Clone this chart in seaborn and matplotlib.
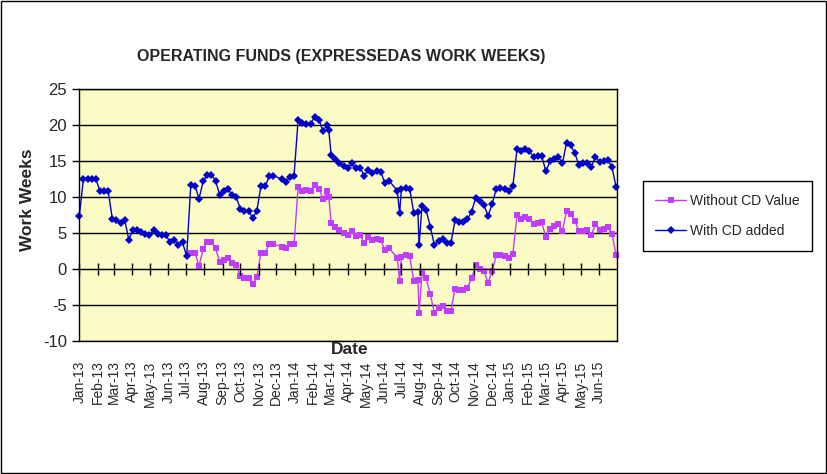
"""Operating funds expressed as work weeks, weekly, Jan 2013 - Jun 2015"""

import matplotlib
matplotlib.use('Agg')
import matplotlib.pyplot as plt
import matplotlib.dates as mdates
from matplotlib.patches import Rectangle
import pandas as pd
import seaborn as sns

# weekly readings (a few weeks missing, a few mid-week corrections added)
dates = [
    '2013-01-01', '2013-01-08', '2013-01-15', '2013-01-22', '2013-01-29',
    '2013-02-05', '2013-02-12', '2013-02-19', '2013-02-26',
    '2013-03-05', '2013-03-12', '2013-03-19', '2013-03-26',
    '2013-04-02', '2013-04-09', '2013-04-16', '2013-04-23', '2013-04-30',
    '2013-05-07', '2013-05-14', '2013-05-21', '2013-05-28',
    '2013-06-04', '2013-06-11', '2013-06-18', '2013-06-25',
    '2013-07-02', '2013-07-09', '2013-07-16', '2013-07-23', '2013-07-30',
    '2013-08-06', '2013-08-13', '2013-08-20', '2013-08-27',
    '2013-09-03', '2013-09-10', '2013-09-17', '2013-09-24',
    '2013-10-01', '2013-10-08', '2013-10-15', '2013-10-22', '2013-10-29',
    '2013-11-05', '2013-11-12', '2013-11-19', '2013-11-26',
    '2013-12-10', '2013-12-17', '2013-12-24', '2013-12-31',
    '2014-01-07', '2014-01-14', '2014-01-21', '2014-01-28',
    '2014-02-04', '2014-02-11', '2014-02-18', '2014-02-25', '2014-02-28',
    '2014-03-04', '2014-03-11', '2014-03-18', '2014-03-25',
    '2014-04-01', '2014-04-08', '2014-04-15', '2014-04-22', '2014-04-29',
    '2014-05-06', '2014-05-13', '2014-05-20', '2014-05-27',
    '2014-06-03', '2014-06-10', '2014-06-24', '2014-06-28',
    '2014-07-01', '2014-07-08', '2014-07-15', '2014-07-22', '2014-07-29', '2014-07-31',
    '2014-08-05', '2014-08-12', '2014-08-19', '2014-08-26',
    '2014-09-02', '2014-09-09', '2014-09-16', '2014-09-23', '2014-09-30',
    '2014-10-07', '2014-10-14', '2014-10-21', '2014-10-28',
    '2014-11-04', '2014-11-11', '2014-11-18', '2014-11-25',
    '2014-12-02', '2014-12-09', '2014-12-16', '2014-12-23', '2014-12-30',
    '2015-01-06', '2015-01-13', '2015-01-20', '2015-01-27',
    '2015-02-03', '2015-02-10', '2015-02-17', '2015-02-24',
    '2015-03-03', '2015-03-10', '2015-03-17', '2015-03-24', '2015-03-31',
    '2015-04-07', '2015-04-14', '2015-04-21', '2015-04-28',
    '2015-05-05', '2015-05-12', '2015-05-19', '2015-05-26',
    '2015-06-02', '2015-06-09', '2015-06-16', '2015-06-23', '2015-06-30',
]

with_cd = [
    7.4, 12.5, 12.5, 12.5, 12.5,
    10.9, 10.9, 10.8, 7.0,
    6.8, 6.4, 6.8, 4.1,
    5.5, 5.4, 5.1, 4.9, 4.7,
    5.5, 4.9, 4.8, 4.7,
    3.7, 4.1, 3.3, 3.7,
    1.8, 11.7, 11.6, 9.8, 12.2,
    13.1, 13.1, 12.3, 10.3,
    10.8, 11.1, 10.3, 10.0,
    8.4, 8.1, 8.1, 7.1, 8.1,
    11.6, 11.5, 12.9, 13.0,
    12.5, 12.1, 12.8, 13.0,
    20.8, 20.3, 20.2, 20.2,
    21.2, 20.8, 19.2, 20.1, 19.3,
    15.8, 15.3, 14.7, 14.4,
    14.0, 14.7, 14.0, 14.1, 13.0,
    13.8, 13.4, 13.6, 13.5,
    12.0, 12.3, 10.9, 7.8,
    11.1, 11.3, 11.2, 7.8, 7.9, 3.3,
    8.8, 8.2, 5.9, 3.3,
    3.9, 4.2, 3.6, 3.6, 6.8,
    6.5, 6.5, 6.9, 8.0,
    9.9, 9.4, 8.9, 7.4,
    9.1, 11.2, 11.3, 11.2, 10.8,
    11.5, 16.7, 16.4, 16.7,
    16.4, 15.6, 15.7, 15.7,
    13.6, 15.0, 15.3, 15.6, 14.7,
    17.6, 17.2, 16.1, 14.5,
    14.7, 14.8, 14.2, 15.6,
    14.9, 15.0, 15.2, 14.2, 11.4,
]

without_cd = [
    None, None, None, None, None,
    None, None, None, None,
    None, None, None, None,
    None, None, None, None, None,
    None, None, None, None,
    None, None, None, None,
    None, 2.3, 2.3, 0.4, 2.8,
    3.8, 3.7, 2.9, 1.0,
    1.3, 1.6, 0.9, 0.6,
    -1.0, -1.3, -1.3, -2.1, -1.1,
    2.3, 2.2, 3.5, 3.5,
    3.1, 2.9, 3.5, 3.5,
    11.4, 10.8, 11.0, 10.8,
    11.7, 11.2, 9.8, 10.8, 10.0,
    6.4, 5.9, 5.4, 5.0,
    4.8, 5.3, 4.6, 4.8, 3.6,
    4.4, 4.1, 4.2, 4.1,
    2.6, 2.9, 1.6, -1.6,
    1.7, 1.9, 1.8, -1.6, -1.5, -6.1,
    -0.6, -1.3, -3.5, -6.1,
    -5.4, -5.2, -5.8, -5.8, -2.7,
    -2.9, -2.9, -2.6, -1.3,
    0.5, 0.0, -0.3, -1.9,
    -0.2, 1.9, 2.0, 1.8, 1.6,
    2.1, 7.5, 7.0, 7.3,
    7.0, 6.2, 6.4, 6.5,
    4.4, 5.6, 6.0, 6.2, 5.3,
    8.1, 7.6, 6.7, 5.3,
    5.3, 5.5, 4.8, 6.2,
    5.5, 5.6, 5.9, 4.9, 2.0,
]

W, H = 827, 474

df = pd.DataFrame({'date': pd.to_datetime(dates),
                   'With CD added': with_cd,
                   'Without CD Value': pd.to_numeric(pd.Series(without_cd, dtype='object'))})

sns.set_style('white')
plt.rcParams['font.family'] = ['Liberation Sans', 'DejaVu Sans']
plt.rcParams['axes.unicode_minus'] = False

fig = plt.figure(figsize=(W / 100, H / 100), dpi=100)
# plot area in pixels: x 79..617, y 89..341
ax = fig.add_axes([79.3 / W, 1 - 341 / H, (616.7 - 79.3) / W, (341 - 89.3) / H])
ax.set_facecolor('#FBFBC6')

mag = df.dropna(subset=['Without CD Value'])
sns.lineplot(data=mag, x='date', y='Without CD Value', ax=ax, color='#C03CFF',
             lw=1, marker='s', markersize=4.8, markeredgewidth=0, clip_on=False,
             estimator=None, sort=False, label='Without CD Value')
sns.lineplot(data=df, x='date', y='With CD added', ax=ax, color='#0000C8',
             lw=1, marker='D', markersize=4, markeredgewidth=0, clip_on=False,
             estimator=None, sort=False, label='With CD added')

ax.set_ylim(-10, 25)
ax.set_yticks(range(-10, 26, 5))
ax.yaxis.grid(True, color='black', lw=1)
ax.xaxis.grid(False)
ax.set_axisbelow(True)
for sp in ax.spines.values():
    sp.set_color('black')
    sp.set_linewidth(1)
ax.tick_params(axis='y', direction='out', length=5, width=1, color='black',
               labelsize=12, left=True, pad=4)

start, end = pd.Timestamp('2013-01-01'), pd.Timestamp('2015-07-01')
ax.set_xlim(start, end)
month_ticks = pd.date_range('2013-01-01', '2015-06-01', freq='MS')
ax.set_xticks(month_ticks)
ax.xaxis.set_major_formatter(mdates.DateFormatter('%b-%y'))
ax.tick_params(axis='x', length=0, labelsize=10, labelrotation=90, pad=14)
ax.set_xlabel('')
ax.set_ylabel('')

# tick marks sit on the zero line (value axis crosses at 0)
ax2 = ax.twiny()
ax2.set_xlim(mdates.date2num(start), mdates.date2num(end))
ax2.set_xticks(mdates.date2num(month_ticks))
ax2.xaxis.set_ticks_position('bottom')
ax2.spines['bottom'].set_position(('data', 0))
for name, sp in ax2.spines.items():
    sp.set_visible(name == 'bottom')
ax2.spines['bottom'].set_color('black')
ax2.tick_params(axis='x', direction='inout', length=9, width=1, color='black',
                labelbottom=False, labeltop=False)

handles, labels = ax.get_legend_handles_labels()
ax.get_legend().remove()
fig.legend(handles, labels, loc='center', bbox_to_anchor=(727.5 / W, 1 - 216 / H),
           frameon=True, fancybox=False, edgecolor='black', framealpha=1,
           fontsize=10, handlelength=2.2, handletextpad=0.3, labelspacing=1.2,
           borderpad=0.9).get_frame().set_linewidth(1)

fig.text(341.5 / W, 1 - 57 / H, 'OPERATING FUNDS (EXPRESSEDAS WORK WEEKS)',
         weight='bold', size=11.5, ha='center', va='center')
fig.text(28 / W, 1 - 200 / H, 'Work Weeks', rotation=90, weight='bold',
         size=12.5, ha='center', va='center')
fig.text(350 / W, 1 - 349 / H, 'Date', weight='bold', size=12.5,
         ha='center', va='center')

fig.patches.append(Rectangle((0.0015, 0.002), 0.997, 0.996, transform=fig.transFigure,
                             fill=False, edgecolor='black', lw=1))

fig.savefig('out.png', dpi=100)
